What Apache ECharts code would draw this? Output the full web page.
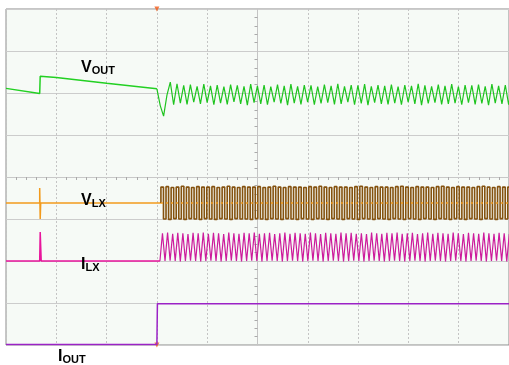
<!DOCTYPE html>
<html>
<head>
<meta charset="utf-8">
<script src="https://cdn.jsdelivr.net/npm/echarts@6/dist/echarts.min.js"></script>
<style>
  html, body { margin: 0; padding: 0; background: #ffffff; }
  #scope { width: 509px; height: 365px; }
</style>
</head>
<body>
<div id="scope"></div>
<script>
// time in divisions (-5..5), level in divisions (-4..4), trigger at t = -2
var voutPre = [[-5, 2.11], [-4.33, 1.99], [-4.32, 2.40], [-4.0, 2.37], [-3.0, 2.23], [-2.0, 2.10]];
var rippleStart = -2.0, rippleStep = 0.0666;
var voutRipple = [
  2.10,1.70,1.45,1.95,2.26,1.72,2.22,1.76,2.18,1.73,
  2.20,1.78,2.16,1.74,2.21,1.77,2.17,1.72,2.19,1.76,
  2.15,1.73,2.20,1.79,2.18,1.74,2.16,1.71,2.21,1.77,
  2.17,1.74,2.19,1.72,2.15,1.78,2.20,1.75,2.17,1.71,
  2.21,1.76,2.16,1.73,2.19,1.78,2.18,1.72,2.15,1.75,
  2.20,1.77,2.17,1.73,2.22,1.74,2.16,1.78,2.19,1.72,
  2.18,1.75,2.21,1.71,2.16,1.77,2.19,1.74,2.17,1.73,
  2.20,1.76,2.15,1.72,2.19,1.78,2.17,1.74,2.22,1.71,
  2.18,1.75,2.16,1.77,2.20,1.73,2.17,1.74,2.21,1.76,
  2.15,1.72,2.19,1.77,2.18,1.73,2.20,1.75,2.16,1.71,
  2.21,1.76,2.17,1.74,2.19,1.72,2.18,1.77,2.16,1.74
];

var vlxPre = [[-5, -0.62], [-4.33, -0.62], [-4.33, -0.26], [-4.32, -1.0], [-4.31, -0.62], [-1.92, -0.62]];
var vlxMid = [[-1.92, -0.62], [5, -0.62]];
var switchStart = -1.92, switchStep = 0.0507;
var vlxBurst = [
  -0.62,-0.24,-1.00,-0.23,-1.01,-0.25,-0.99,-0.24,-1.00,-0.22,
  -1.01,-0.24,-0.99,-0.25,-1.00,-0.23,-1.01,-0.24,-0.99,-0.24,
  -1.00,-0.23,-1.01,-0.25,-0.99,-0.24,-1.00,-0.22,-1.01,-0.24,
  -0.99,-0.25,-1.00,-0.23,-1.00,-0.24,-1.01,-0.24,-0.99,-0.23,
  -1.00,-0.25,-1.01,-0.24,-0.99,-0.22,-1.00,-0.24,-1.01,-0.25,
  -0.99,-0.23,-1.00,-0.24,-1.01,-0.24,-0.99,-0.25,-1.00,-0.23,
  -1.01,-0.24,-0.99,-0.22,-1.00,-0.24,-1.01,-0.25,-0.99,-0.23,
  -1.00,-0.24,-1.01,-0.24,-0.99,-0.25,-1.00,-0.23,-1.01,-0.22,
  -0.99,-0.24,-1.00,-0.25,-1.01,-0.23,-0.99,-0.24,-1.00,-0.24,
  -1.01,-0.25,-0.99,-0.23,-1.00,-0.22,-1.01,-0.24,-0.99,-0.25,
  -1.00,-0.23,-1.01,-0.24,-0.99,-0.24,-1.00,-0.25,-1.01,-0.23,
  -0.99,-0.22,-1.00,-0.24,-1.01,-0.25,-0.99,-0.23,-1.00,-0.24,
  -1.01,-0.24,-0.99,-0.25,-1.00,-0.23,-1.01,-0.22,-0.99,-0.24,
  -1.00,-0.25,-1.01,-0.23,-0.99,-0.24,-1.00,-0.24,-1.01,-0.25
];

var ilxPre = [[-5, -2.0], [-4.33, -2.0], [-4.32, -1.31], [-4.30, -2.0], [-1.94, -2.0]];
var ilxBurst = [
  -2.00,-1.34,-2.00,-1.32,-1.99,-1.35,-2.00,-1.33,-2.01,-1.34,
  -2.00,-1.36,-1.99,-1.33,-2.00,-1.34,-2.01,-1.32,-2.00,-1.35,
  -1.99,-1.33,-2.00,-1.34,-2.01,-1.36,-2.00,-1.32,-1.99,-1.34,
  -2.00,-1.35,-2.01,-1.33,-2.00,-1.34,-1.99,-1.32,-2.00,-1.35,
  -2.01,-1.34,-2.00,-1.33,-1.99,-1.36,-2.00,-1.34,-2.01,-1.32,
  -2.00,-1.35,-1.99,-1.33,-2.00,-1.34,-2.01,-1.35,-2.00,-1.32,
  -1.99,-1.34,-2.00,-1.36,-2.01,-1.33,-2.00,-1.34,-1.99,-1.35,
  -2.00,-1.32,-2.01,-1.34,-2.00,-1.33,-1.99,-1.35,-2.00,-1.34,
  -2.01,-1.36,-2.00,-1.32,-1.99,-1.34,-2.00,-1.35,-2.01,-1.33,
  -2.00,-1.34,-1.99,-1.32,-2.00,-1.35,-2.01,-1.34,-2.00,-1.33,
  -1.99,-1.36,-2.00,-1.34,-2.01,-1.32,-2.00,-1.35,-1.99,-1.33,
  -2.00,-1.34,-2.01,-1.35,-2.00,-1.32,-1.99,-1.34,-2.00,-1.36,
  -2.01,-1.33,-2.00,-1.34,-1.99,-1.35,-2.00,-1.32,-2.01,-1.34,
  -2.00,-1.35,-1.99,-1.33,-2.00,-1.34,-2.01,-1.36,-2.00,-1.32
];

var ioutTrace = [[-5, -3.99], [-2.0, -3.99], [-1.99, -3.02], [5, -3.02]];
var triggerMarks = [[-2.0, 4], [-2.0, -4]];

// uniform samples -> [t, v]
function sampled(start, step, values) {
  var out = [];
  values.forEach(function (v, i) {
    out.push([start + i * step, v]);
  });
  return out;
}

var scopeChart = function () {
  var myChart = echarts.init(document.getElementById('scope'));

  // trace name with subscript
  function label(x, y, main, sub) {
    return {
      type: 'text', left: x, top: y, z: 100,
      style: {
        text: '{a|' + main + '}{b|' + sub + '}',
        rich: {
          a: { font: 'bold 16px "Liberation Sans"', fill: '#000' },
          b: { font: 'bold 11px "Liberation Sans"', fill: '#000', padding: [6, 0, 0, 0] }
        }
      }
    };
  }

  var option = {
    animation: false,
    backgroundColor: '#ffffff',
    grid: {
      left: 6, top: 9, width: 503, height: 336,
      show: true, backgroundColor: '#f6faf6', borderColor: '#8c8c8c', borderWidth: 1
    },
    xAxis: {
      type: 'value', min: -5, max: 5, interval: 1,
      axisLabel: { show: false },
      axisTick: { show: false },
      minorTick: { show: true, splitNumber: 5, length: 3, lineStyle: { color: '#aaaaaa' } },
      axisLine: { show: true, onZero: true, lineStyle: { color: '#c8c8c8' } },
      splitLine: { show: true, lineStyle: { color: '#c4c4c4', type: [2, 2] } }
    },
    yAxis: {
      type: 'value', min: -4, max: 4, interval: 1,
      axisLabel: { show: false },
      axisTick: { show: false },
      minorTick: { show: true, splitNumber: 5, length: 3, lineStyle: { color: '#aaaaaa' } },
      axisLine: { show: true, onZero: true, lineStyle: { color: '#c4c4c4', type: [2, 2] } },
      splitLine: { show: true, lineStyle: { color: '#cccccc' } }
    },
    graphic: [
      label(81, 60, 'V', 'OUT'),
      label(81, 193, 'V', 'LX'),
      label(81, 257, 'I', 'LX'),
      label(58, 349, 'I', 'OUT')
    ],
    series: [
      { name: 'IOUT', type: 'line', data: ioutTrace, showSymbol: false,
        lineStyle: { color: '#9b22c6', width: 1.5 } },
      { name: 'ILX', type: 'line', data: ilxPre, showSymbol: false,
        lineStyle: { color: '#e8159c', width: 1.5 } },
      { name: 'ILX burst', type: 'line', data: sampled(switchStart - 0.02, switchStep, ilxBurst), showSymbol: false,
        lineStyle: { color: '#cc1c9c', width: 1.2 } },
      { name: 'VLX', type: 'line', data: vlxPre, showSymbol: false,
        lineStyle: { color: '#f29a1c', width: 1.5 } },
      { name: 'VLX burst', type: 'line', step: 'start', data: sampled(switchStart, switchStep, vlxBurst), showSymbol: false,
        lineStyle: { color: '#84520f', width: 1.6 } },
      { name: 'VLX mid', type: 'line', data: vlxMid, showSymbol: false,
        lineStyle: { color: '#f29a1c', width: 1.5, type: [2, 3] } },
      { name: 'VOUT', type: 'line', data: voutPre, showSymbol: false,
        lineStyle: { color: '#22d022', width: 1.5 } },
      { name: 'VOUT ripple', type: 'line', data: sampled(rippleStart, rippleStep, voutRipple), showSymbol: false,
        lineStyle: { color: '#1fc41f', width: 1.2 } },
      { name: 'trigger', type: 'scatter', data: triggerMarks, symbol: 'triangle', symbolRotate: 180, symbolSize: 5,
        itemStyle: { color: '#f25a18' } }
    ]
  };
  myChart.setOption(option);
};

scopeChart();
</script>
</body>
</html>
